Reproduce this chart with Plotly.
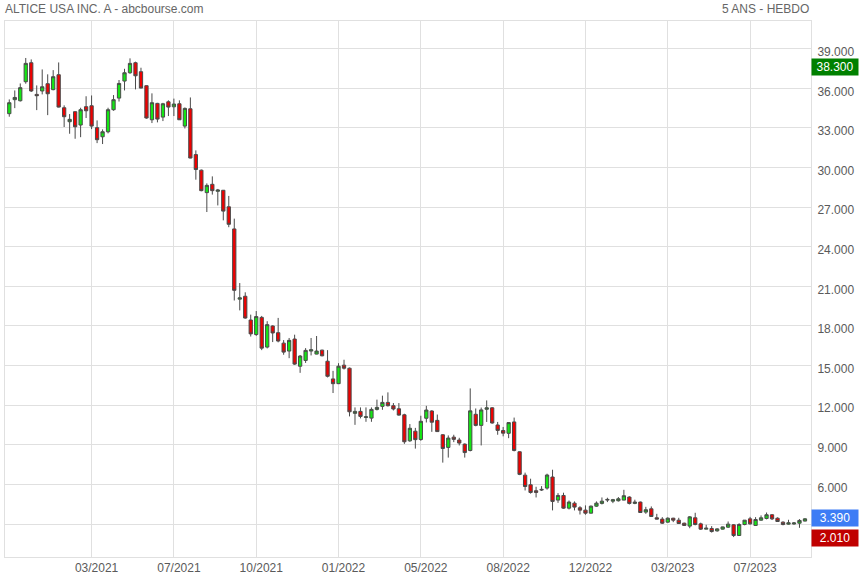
import pandas as pd
import plotly.graph_objects as go

# Weekly candles (week starting Monday)
weeks = pd.date_range("2020-12-07", periods=146, freq="7D")

open_ = [34.08, 35.14, 35.06, 36.50, 37.94, 35.54, 35.80, 36.35, 35.90, 37.03,
         34.53, 33.47, 34.23, 33.22, 34.61, 34.68, 33.02, 32.33, 32.71, 34.38,
         35.26, 36.55, 37.18, 37.94, 37.26, 36.20, 33.62, 34.86, 33.82, 34.98,
         34.60, 34.83, 33.14, 34.45, 30.98, 29.80, 28.10, 28.73, 28.20, 28.28,
         27.03, 25.35, 20.03, 20.25, 18.45, 17.35, 18.65, 16.40, 18.00, 17.49,
         16.70, 16.10, 17.01, 14.95, 15.39, 16.10, 15.87, 16.17, 15.33, 13.99,
         13.63, 15.03, 14.80, 11.38, 11.53, 11.07, 11.02, 11.68, 11.91, 12.21,
         11.96, 11.73, 11.27, 9.30, 10.03, 9.40, 11.01, 11.56, 10.85, 9.76,
         8.80, 9.58, 9.36, 9.05, 8.57, 11.31, 10.47, 11.69, 11.80, 10.50,
         10.08, 9.87, 10.73, 8.47, 6.70, 5.97, 5.52, 5.57, 5.72, 6.56,
         4.81, 5.16, 4.20, 4.58, 4.23, 4.05, 3.82, 4.35, 4.56, 4.81,
         4.73, 4.76, 4.81, 5.04, 4.56, 4.66, 3.90, 4.15, 3.47, 3.37,
         3.14, 3.44, 3.29, 3.06, 2.84, 3.47, 3.01, 2.61, 2.66, 2.48,
         2.61, 2.76, 2.94, 2.13, 2.96, 3.39, 2.89, 3.29, 3.42, 3.70,
         3.44, 3.14, 2.99, 3.00, 3.06, 3.22]
high = [35.16, 35.84, 36.37, 38.30, 38.19, 36.22, 37.43, 37.06, 37.38, 37.96,
        34.71, 34.05, 34.25, 34.53, 35.40, 35.46, 33.57, 32.89, 34.53, 35.49,
        36.63, 37.48, 38.27, 38.02, 37.56, 36.22, 35.62, 34.90, 34.90, 35.09,
        35.22, 35.09, 34.55, 35.31, 31.30, 29.85, 28.80, 29.33, 28.38, 28.30,
        27.85, 26.13, 21.25, 20.55, 18.86, 19.13, 18.76, 18.36, 18.05, 18.61,
        16.93, 17.09, 17.34, 15.80, 16.32, 17.09, 17.24, 16.20, 16.17, 14.60,
        15.18, 15.44, 14.85, 11.83, 11.83, 11.83, 11.83, 12.42, 12.72, 12.97,
        12.16, 12.16, 11.35, 10.57, 10.28, 11.20, 11.95, 11.62, 11.29, 9.80,
        9.71, 9.76, 9.53, 9.10, 13.27, 11.75, 11.82, 12.36, 11.85, 10.73,
        10.35, 10.70, 11.06, 8.50, 6.89, 6.43, 5.82, 5.87, 6.81, 7.11,
        5.34, 5.37, 4.78, 4.71, 4.35, 4.41, 4.40, 4.71, 5.01, 4.99,
        4.90, 5.04, 5.59, 5.10, 4.84, 4.70, 4.30, 4.33, 3.77, 3.52,
        3.50, 3.47, 3.47, 3.10, 3.60, 3.85, 3.10, 2.94, 2.84, 2.68,
        2.80, 3.19, 3.00, 3.06, 3.30, 3.54, 3.52, 3.65, 3.87, 3.75,
        3.50, 3.20, 3.32, 3.15, 3.37, 3.45]
low = [33.85, 34.50, 35.00, 36.35, 35.72, 34.35, 35.54, 33.97, 35.85, 34.55,
       33.07, 32.56, 32.18, 32.30, 33.75, 32.91, 31.85, 31.78, 32.59, 34.30,
       35.00, 35.84, 37.10, 35.92, 36.00, 33.70, 33.37, 33.42, 33.52, 33.90,
       33.90, 33.60, 32.96, 30.70, 29.08, 28.20, 26.63, 27.95, 27.13, 26.00,
       25.48, 19.93, 19.18, 18.55, 17.20, 17.25, 16.17, 16.30, 16.78, 16.76,
       15.82, 15.56, 15.05, 14.45, 15.20, 15.77, 15.85, 15.70, 14.10, 12.92,
       13.60, 14.70, 11.15, 10.51, 11.00, 10.74, 10.74, 11.60, 11.65, 11.90,
       11.60, 11.20, 9.07, 9.22, 8.71, 9.30, 10.69, 9.98, 9.98, 7.65,
       8.03, 9.20, 8.95, 8.03, 8.50, 10.40, 8.95, 10.73, 10.60, 9.76,
       9.64, 9.50, 8.50, 6.70, 5.54, 5.30, 5.01, 5.50, 5.60, 4.03,
       4.60, 4.15, 4.10, 4.03, 3.72, 3.70, 3.80, 4.30, 4.48, 4.66,
       4.58, 4.70, 4.80, 4.48, 4.50, 3.85, 3.77, 3.55, 3.35, 3.00,
       3.10, 3.14, 3.00, 2.85, 2.68, 2.90, 2.55, 2.60, 2.35, 2.42,
       2.58, 2.70, 2.01, 2.10, 2.90, 2.95, 2.85, 3.25, 3.35, 3.30,
       3.15, 2.90, 2.95, 2.95, 2.71, 3.20]
close = [34.91, 35.31, 36.05, 37.89, 35.80, 35.44, 36.12, 35.59, 36.88, 34.58,
         33.85, 33.65, 33.09, 34.38, 34.30, 33.14, 32.11, 32.71, 34.38, 35.14,
         36.37, 37.18, 37.89, 36.95, 36.02, 33.75, 34.91, 33.67, 34.83, 34.58,
         34.81, 33.62, 34.48, 30.72, 29.85, 28.25, 28.65, 28.25, 28.30, 26.70,
         25.70, 20.70, 20.13, 18.60, 17.40, 18.71, 16.32, 18.10, 17.47, 16.86,
         16.02, 16.91, 15.11, 15.72, 16.15, 16.20, 16.10, 15.74, 14.19, 13.63,
         14.95, 14.80, 11.50, 11.53, 11.15, 11.12, 11.68, 11.83, 12.21, 11.96,
         11.71, 11.25, 9.23, 10.25, 9.39, 10.78, 11.63, 10.71, 10.00, 8.72,
         9.51, 9.41, 9.13, 8.41, 11.57, 10.47, 11.64, 11.80, 10.65, 10.09,
         9.88, 10.68, 8.57, 6.76, 5.84, 5.39, 5.39, 5.62, 6.71, 4.71,
         5.16, 4.20, 4.66, 4.28, 4.05, 3.82, 4.35, 4.58, 4.73, 4.86,
         4.84, 4.91, 5.14, 4.56, 4.66, 3.87, 4.08, 3.57, 3.37, 3.06,
         3.44, 3.29, 3.04, 2.89, 3.54, 2.96, 2.61, 2.68, 2.43, 2.63,
         2.78, 2.99, 2.13, 2.96, 3.29, 3.01, 3.34, 3.47, 3.70, 3.39,
         3.19, 2.96, 3.09, 3.08, 3.27, 3.39]

tick_index = [15, 30, 45, 60, 75, 90, 105, 120, 135]
tick_labels = ["03/2021", "07/2021", "10/2021", "01/2022", "05/2022",
               "08/2022", "12/2022", "03/2023", "07/2023"]
y_ticks = [3, 6, 9, 12, 15, 18, 21, 24, 27, 30, 33, 36, 39]
# the 3.000 label is hidden behind the last-close box in the original
y_tick_text = [""] + [f"{v:.3f}" for v in y_ticks[1:]]

max_high = 38.300
last_close = 3.390
min_low = 2.010

GRID = "#e0e0e0"
TXT = "#5a5a5a"
FONT = "Liberation Sans, Arial, sans-serif"

fig = go.Figure(go.Candlestick(
    x=weeks, open=open_, high=high, low=low, close=close,
    increasing=dict(fillcolor="#14e614", line=dict(color="#4a4a4a", width=1)),
    decreasing=dict(fillcolor="#f00000", line=dict(color="#4a4a4a", width=1)),
    whiskerwidth=0, showlegend=False, hoverinfo="skip",
))

wk = pd.Timedelta(days=7)
fig.update_layout(
    width=860, height=580,
    margin=dict(l=5, r=49, t=21, b=23, autoexpand=False),
    paper_bgcolor="white", plot_bgcolor="white",
    boxgap=0.15,
    font=dict(family=FONT, size=12, color=TXT),
    xaxis=dict(
        type="date", automargin=False,
        range=[weeks[0] - 0.78 * wk, weeks[0] + 146.1 * wk],
        tickvals=[weeks[i] for i in tick_index], ticktext=tick_labels,
        showgrid=True, gridcolor=GRID, gridwidth=1,
        showline=True, mirror=True, linecolor=GRID, linewidth=1,
        ticks="", zeroline=False,
        rangeslider=dict(visible=False),
        tickfont=dict(size=12, color=TXT),
        ticklabelshift=5,
    ),
    yaxis=dict(
        side="right", automargin=False,
        range=[0.5, 41.1],
        tickvals=y_ticks, ticktext=y_tick_text,
        showgrid=True, gridcolor=GRID, gridwidth=1,
        showline=True, mirror=True, linecolor=GRID, linewidth=1,
        ticks="", zeroline=False,
        tickfont=dict(size=12, color=TXT),
        ticklabelshift=3, ticklabelstandoff=3,
    ),
)

fig.add_annotation(text="ALTICE USA INC. A - abcbourse.com", xref="paper", yref="paper",
                   x=0, y=1, xanchor="left", yanchor="bottom", yshift=3, xshift=-2,
                   showarrow=False, font=dict(size=12, color="#666666"))
fig.add_annotation(text="5 ANS - HEBDO", xref="paper", yref="paper",
                   x=1, y=1, xanchor="right", yanchor="bottom", yshift=3,
                   showarrow=False, font=dict(size=12, color="#666666"))

for val, col, shift in [(max_high, "#008000", -9), (last_close, "#3d7cf5", 1), (min_low, "#c00000", -1)]:
    fig.add_annotation(text=f"{val:.3f}", xref="paper", yref="y", x=1, y=val,
                       xanchor="left", yanchor="middle", yshift=shift, showarrow=False,
                       bgcolor=col, width=46, height=16, align="center", valign="middle",
                       borderpad=0, font=dict(size=12, color="white"))

fig.write_html("out.html", config={"displayModeBar": False},
               post_script="document.body.style.margin='0';document.body.style.padding='0';")
